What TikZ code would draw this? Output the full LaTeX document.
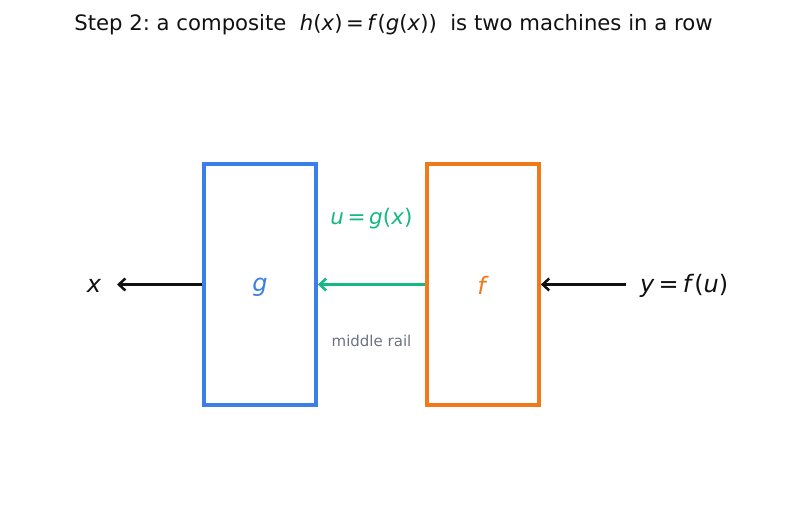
\documentclass[tikz,border=0pt]{standalone}
\usepackage{fontspec}
\setmainfont{DejaVu Sans}
\usetikzlibrary{arrows.meta}
\definecolor{gblue}{HTML}{3B7FE6}
\definecolor{forange}{HTML}{F07A1A}
\definecolor{rgreen}{HTML}{14B981}
\definecolor{rgray}{HTML}{6B7280}
\definecolor{ink}{HTML}{111111}
\begin{document}
\begin{tikzpicture}[x=1pt,y=-1pt,
  machine/.style={draw, line width=3.75pt, minimum width=112pt, minimum height=241pt, inner sep=0pt},
  wire/.style={line width=2.6pt, -{Straight Barb[length=6.5pt,width=12pt,line width=2.5pt]}},
  lbl/.style={font=\fontsize{24}{26}\selectfont, text=ink, inner sep=0pt}]
\useasboundingbox (0,0) rectangle (787,510);
\node[font=\fontsize{21.2}{24}\selectfont, text=ink] (title) at (393.5,25) {\frenchspacing Step 2: a composite \ \textit{h}(\textit{x})\,=\,\textit{f}(\textit{g}(\textit{x})) \ is two machines in a row};
\node[machine, draw=gblue] (g) at (260,284.5) {};
\node[machine, draw=forange] (f) at (483,284.5) {};
\node[lbl, text=gblue] (gname) at (260,287) {\textit{g}};
\node[lbl, text=forange] (fname) at (483,285.5) {\textit{f}};
\node[lbl] (x) at (94,286) {\textit{x}};
\node[lbl, anchor=west] (y) at (640,285.5) {\textit{y}\,=\,\textit{f}(\textit{u})};
\coordinate (xend) at (117,284.5);
\coordinate (yend) at (626,284.5);
\draw[wire, ink] (g.west) -- (xend);
\draw[wire, rgreen] (f.west) -- (g.east);
\draw[wire, ink] (yend) -- (f.east);
\node[font=\fontsize{21.5}{24}\selectfont, text=rgreen] (ulbl) at (371.5,219) {\textit{u}\,=\,\textit{g}(\textit{x})};
\node[font=\fontsize{15}{17}\selectfont, text=rgray] (rail) at (371.5,341) {middle rail};
\end{tikzpicture}
\end{document}
